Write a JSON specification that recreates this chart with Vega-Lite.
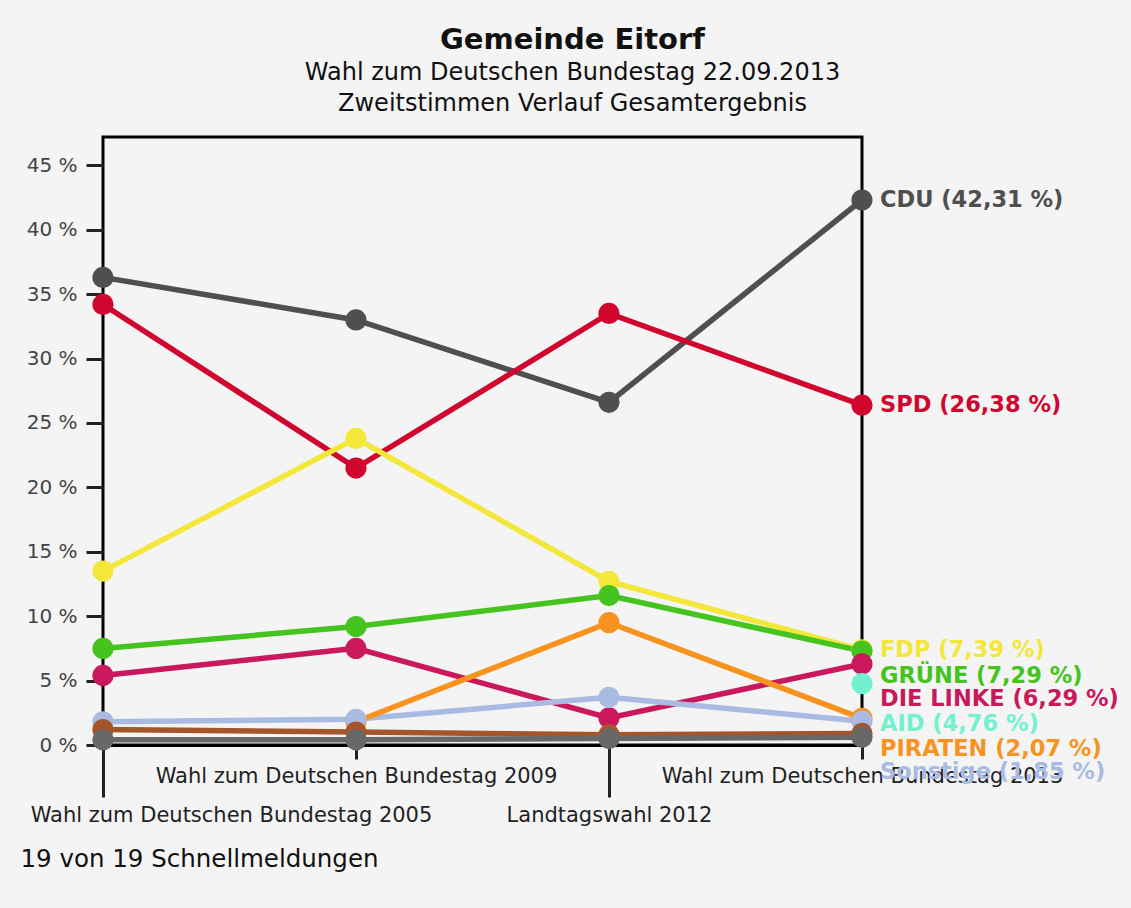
{
  "$schema": "https://vega.github.io/schema/vega-lite/v6.json",
  "width": 759,
  "height": 608,
  "autosize": {"type": "none"},
  "padding": {"left": 103, "top": 137, "right": 269, "bottom": 163},
  "background": "#f4f4f4",
  "config": {"font": "DejaVu Sans", "view": {"stroke": "black", "strokeWidth": 3}},
  "title": {
    "text": "Gemeinde Eitorf",
    "subtitle": ["Wahl zum Deutschen Bundestag 22.09.2013", "Zweitstimmen Verlauf Gesamtergebnis"],
    "font": "DejaVu Sans", "fontSize": 29, "fontWeight": "bold", "color": "#111",
    "subtitleFont": "DejaVu Sans", "subtitleFontSize": 24, "subtitleColor": "#111",
    "subtitleLineHeight": 31, "subtitlePadding": 6,
    "anchor": "middle", "dx": 90, "offset": 21
  },
  "data": {"values": [
    {"wahl": "Wahl zum Deutschen Bundestag 2005", "party": "CDU", "value": 36.3},
    {"wahl": "Wahl zum Deutschen Bundestag 2005", "party": "SPD", "value": 34.2},
    {"wahl": "Wahl zum Deutschen Bundestag 2005", "party": "FDP", "value": 13.5},
    {"wahl": "Wahl zum Deutschen Bundestag 2005", "party": "GRÜNE", "value": 7.5},
    {"wahl": "Wahl zum Deutschen Bundestag 2005", "party": "DIE LINKE", "value": 5.4},
    {"wahl": "Wahl zum Deutschen Bundestag 2005", "party": "Sonstige", "value": 1.8},
    {"wahl": "Wahl zum Deutschen Bundestag 2005", "party": "NPD", "value": 1.2},
    {"wahl": "Wahl zum Deutschen Bundestag 2005", "party": "Weitere", "value": 0.4},
    {"wahl": "Wahl zum Deutschen Bundestag 2009", "party": "CDU", "value": 33.0},
    {"wahl": "Wahl zum Deutschen Bundestag 2009", "party": "SPD", "value": 21.5},
    {"wahl": "Wahl zum Deutschen Bundestag 2009", "party": "FDP", "value": 23.8},
    {"wahl": "Wahl zum Deutschen Bundestag 2009", "party": "GRÜNE", "value": 9.2},
    {"wahl": "Wahl zum Deutschen Bundestag 2009", "party": "DIE LINKE", "value": 7.5},
    {"wahl": "Wahl zum Deutschen Bundestag 2009", "party": "PIRATEN", "value": 1.8},
    {"wahl": "Wahl zum Deutschen Bundestag 2009", "party": "Sonstige", "value": 2.0},
    {"wahl": "Wahl zum Deutschen Bundestag 2009", "party": "NPD", "value": 1.0},
    {"wahl": "Wahl zum Deutschen Bundestag 2009", "party": "Weitere", "value": 0.4},
    {"wahl": "Landtagswahl 2012", "party": "CDU", "value": 26.6},
    {"wahl": "Landtagswahl 2012", "party": "SPD", "value": 33.5},
    {"wahl": "Landtagswahl 2012", "party": "FDP", "value": 12.7},
    {"wahl": "Landtagswahl 2012", "party": "GRÜNE", "value": 11.6},
    {"wahl": "Landtagswahl 2012", "party": "DIE LINKE", "value": 2.1},
    {"wahl": "Landtagswahl 2012", "party": "PIRATEN", "value": 9.5},
    {"wahl": "Landtagswahl 2012", "party": "Sonstige", "value": 3.7},
    {"wahl": "Landtagswahl 2012", "party": "NPD", "value": 0.8},
    {"wahl": "Landtagswahl 2012", "party": "Weitere", "value": 0.5},
    {"wahl": "Wahl zum Deutschen Bundestag 2013", "party": "CDU", "value": 42.31, "label": "CDU (42,31 %)"},
    {"wahl": "Wahl zum Deutschen Bundestag 2013", "party": "SPD", "value": 26.38, "label": "SPD (26,38 %)"},
    {"wahl": "Wahl zum Deutschen Bundestag 2013", "party": "FDP", "value": 7.39, "label": "FDP (7,39 %)"},
    {"wahl": "Wahl zum Deutschen Bundestag 2013", "party": "GRÜNE", "value": 7.29, "label": "GRÜNE (7,29 %)"},
    {"wahl": "Wahl zum Deutschen Bundestag 2013", "party": "DIE LINKE", "value": 6.29, "label": "DIE LINKE (6,29 %)"},
    {"wahl": "Wahl zum Deutschen Bundestag 2013", "party": "AID", "value": 4.76, "label": "AID (4,76 %)"},
    {"wahl": "Wahl zum Deutschen Bundestag 2013", "party": "PIRATEN", "value": 2.07, "label": "PIRATEN (2,07 %)"},
    {"wahl": "Wahl zum Deutschen Bundestag 2013", "party": "Sonstige", "value": 1.85, "label": "Sonstige (1,85 %)"},
    {"wahl": "Wahl zum Deutschen Bundestag 2013", "party": "NPD", "value": 0.9},
    {"wahl": "Wahl zum Deutschen Bundestag 2013", "party": "Weitere", "value": 0.6}
  ]},
  "encoding": {
    "x": {
      "field": "wahl", "type": "ordinal",
      "sort": ["Wahl zum Deutschen Bundestag 2005", "Wahl zum Deutschen Bundestag 2009", "Landtagswahl 2012", "Wahl zum Deutschen Bundestag 2013"],
      "scale": {"type": "point", "padding": 0},
      "axis": {
        "title": "19 von 19 Schnellmeldungen",
        "titleAnchor": "start", "titleAlign": "left", "titleX": -83, "titleY": 121,
        "titleBaseline": "alphabetic", "titleFontSize": 24.5, "titleFontWeight": "normal", "titleColor": "#111",
        "labelAngle": 0, "labelFontSize": 21, "labelColor": "#222", "labelLimit": 0,
        "labelOverlap": false, "labelBound": false, "labelFlush": false,
        "domain": true, "domainColor": "black", "domainWidth": 3,
        "tickColor": "#222", "tickWidth": 3,
        "tickSize": {"condition": {"test": "datum.value == 'Wahl zum Deutschen Bundestag 2005' || datum.value == 'Landtagswahl 2012'", "value": 52}, "value": 14},
        "labelPadding": {"condition": {"test": "datum.value == 'Wahl zum Deutschen Bundestag 2005' || datum.value == 'Landtagswahl 2012'", "value": 7}, "value": 6},
        "labelOffset": {"condition": {"test": "datum.value == 'Wahl zum Deutschen Bundestag 2005'", "value": 128}, "value": 0}
      }
    },
    "y": {
      "field": "value", "type": "quantitative",
      "scale": {"domain": [0, 47.2], "nice": false},
      "axis": {
        "values": [0, 5, 10, 15, 20, 25, 30, 35, 40, 45],
        "labelExpr": "datum.value + ' %'",
        "title": null, "grid": false, "domain": false,
        "tickColor": "#222", "tickWidth": 3, "tickSize": 17,
        "labelPadding": 9, "labelFontSize": 20, "labelColor": "#444"
      }
    },
    "color": {
      "field": "party", "type": "nominal", "legend": null,
      "scale": {
        "domain": ["CDU", "SPD", "FDP", "GRÜNE", "DIE LINKE", "AID", "PIRATEN", "Sonstige", "NPD", "Weitere"],
        "range": ["#4f4f4f", "#d0062e", "#f3e73a", "#45c31f", "#c9185c", "#72f0d0", "#f7931e", "#a9bae3", "#a5552a", "#686868"]
      }
    }
  },
  "layer": [
    {"mark": {"type": "line", "strokeWidth": 5.5}},
    {"mark": {"type": "point", "filled": true, "size": 450, "opacity": 1}},
    {
      "transform": [{"filter": "datum.label != null"}],
      "mark": {
        "type": "text", "align": "left", "baseline": "middle", "dx": 18,
        "dy": {"expr": "datum.party == 'GRÜNE' ? 25 : datum.party == 'DIE LINKE' ? 35 : datum.party == 'AID' ? 40 : datum.party == 'PIRATEN' ? 31 : datum.party == 'Sonstige' ? 51 : 0"},
        "fontSize": 22.5, "fontWeight": "bold"
      },
      "encoding": {"text": {"field": "label"}}
    }
  ]
}
